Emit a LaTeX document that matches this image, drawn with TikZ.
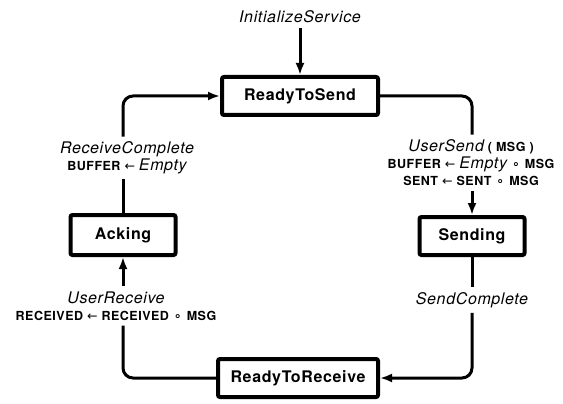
\documentclass[tikz,border=0pt]{standalone}
\usepackage{fontspec}
\setmainfont{TeX Gyre Heros}[LetterSpace=4]
\newfontfamily\symfont{DejaVu Sans}
\usepackage{tikz}
\usetikzlibrary{positioning,arrows.meta}
\tikzstyle{line} = [draw,line width=3pt]
\tikzstyle{trans} = [line,-{Latex[length=12pt,width=9pt]}]
\tikzstyle{stbox} = [draw,line width=4pt,rounded corners=2pt,minimum height=38pt,font=\fontsize{16}{19}\selectfont\bfseries]
\tikzstyle{lbl} = [align=center,inner sep=5pt,font=\fontsize{12.5}{17}\selectfont\bfseries]
\newcommand{\evname}[1]{{\fontsize{16}{17}\selectfont\mdseries\itshape #1}}
\newcommand{\getsym}{\hspace{4pt}{\symfont\mdseries ←}\hspace{4pt}}
\newcommand{\catsym}{\hspace{5pt}{\symfont ∘}\hspace{5pt}}

\begin{document}
\begin{tikzpicture}[x=1pt,y=-1pt]
  \useasboundingbox (0,0) rectangle (563,404);
  % states
  \node[stbox,minimum width=156pt] (rts) at (300,96) {ReadyToSend};
  \node[stbox,minimum width=105pt] (snd) at (472,236) {Sending};
  \node[stbox,minimum width=160pt] (rtr) at (298,378) {ReadyToReceive};
  \node[stbox,minimum width=105pt,minimum height=40pt] (ack) at (123,235) {Acking};
  % events and actions
  \node[lbl] (init) at (300,17) {\evname{InitializeService}};
  \node[lbl] (lblsend) at (471,163) {\evname{UserSend} ( MSG )\\BUFFER\getsym\evname{Empty}\catsym MSG\\SENT\getsym SENT\catsym MSG};
  \node[lbl] (lblsc) at (472,300) {\evname{SendComplete}};
  \node[lbl] (lblrecv) at (116,306) {\evname{UserReceive}\\RECEIVED\getsym RECEIVED\catsym MSG};
  \node[lbl] (lblrc) at (127,158) {\evname{ReceiveComplete}\\BUFFER\getsym\evname{Empty}};
  % transitions
  \draw[trans] (init) -- (rts);
  \draw[line,rounded corners=10pt] (rts.east) -| (lblsend.north -| snd);
  \draw[trans] (lblsend.south -| snd) -- (snd);
  \draw[line] (snd) -- (lblsc);
  \draw[trans,rounded corners=10pt] (lblsc) |- (rtr);
  \draw[line,rounded corners=10pt] (rtr) -| (lblrecv.south -| ack);
  \draw[trans] (lblrecv.north -| ack) -- (ack);
  \draw[line] (ack) -- (lblrc.south -| ack);
  \draw[trans,rounded corners=10pt] (lblrc.north -| ack) |- (rts);
\end{tikzpicture}
\end{document}
